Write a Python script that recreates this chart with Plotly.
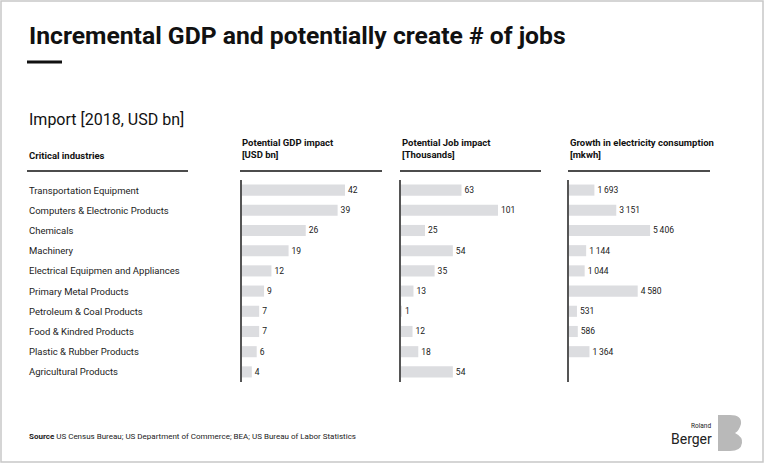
import plotly.graph_objects as go

W, H = 768, 464

categories = [
    "Transportation Equipment",
    "Computers & Electronic Products",
    "Chemicals",
    "Machinery",
    "Electrical Equipmen and Appliances",
    "Primary Metal Products",
    "Petroleum & Coal Products",
    "Food & Kindred Products",
    "Plastic & Rubber Products",
    "Agricultural Products",
]
gdp_impact = [42, 39, 26, 19, 12, 9, 7, 7, 6, 4]
job_impact = [63, 101, 25, 54, 35, 13, 1, 12, 18, 54]
electricity_growth = [1693, 3151, 5406, 1144, 1044, 4580, 531, 586, 1364, None]

column_titles = [
    "Potential GDP impact<br>[USD bn]",
    "Potential Job impact<br>[Thousands]",
    "Growth in electricity consumption<br>[mkwh]",
]

FONT = "Roboto"
BAR = "#dcdde0"
INK = "#1a1a1a"


def px(x):
    return x / W


def py(y):
    return 1 - y / H


def fmt(v):
    if v is None:
        return ""
    return f"{v:,}".replace(",", "\u2009")


series = [gdp_impact, job_impact, electricity_growth]
# column geometry in pixels: (bar start, domain end, x-range max)
cols = [(242, 382, 57.1), (401, 541, 145.8), (569, 710, 9400)]

fig = go.Figure()
ydom = [py(382), py(180)]
for i, (vals, (x0, x1, rmax)) in enumerate(zip(series, cols)):
    sfx = "" if i == 0 else str(i + 1)
    fig.add_trace(go.Bar(
        orientation="h",
        y=categories,
        x=vals,
        xaxis="x" + sfx,
        yaxis="y" + sfx,
        marker=dict(color=BAR, line=dict(width=0)),
        width=0.55,
        text=[fmt(v) for v in vals],
        textposition="outside",
        cliponaxis=False,
        textfont=dict(family=FONT, size=8.5, color=INK),
        hoverinfo="skip",
        showlegend=False,
    ))
    fig.layout["xaxis" + sfx] = dict(
        domain=[px(x0), px(x1)], range=[0, rmax], visible=False,
        anchor="y" + sfx, fixedrange=True,
    )
    fig.layout["yaxis" + sfx] = dict(
        domain=ydom, anchor="x" + sfx, type="category",
        categoryorder="array", categoryarray=categories,
        range=[9.5, -0.5], showticklabels=False, showgrid=False,
        zeroline=False, showline=True, linecolor="#555555", linewidth=1.5,
        ticks="", fixedrange=True,
    )

annotations = []
# title
annotations.append(dict(
    x=px(27), y=py(35), xref="paper", yref="paper", xanchor="left", yanchor="middle",
    text="<b>Incremental GDP and potentially create # of jobs</b>", showarrow=False,
    font=dict(family=FONT, size=24.7, color="#111111"),
))
annotations.append(dict(
    x=px(27), y=py(120), xref="paper", yref="paper", xanchor="left", yanchor="middle",
    text="Import [2018, USD bn]", showarrow=False,
    font=dict(family=FONT, size=16, color="#111111"),
))
annotations.append(dict(
    x=px(27), y=py(155), xref="paper", yref="paper", xanchor="left", yanchor="middle",
    text="<b>Critical industries</b>", showarrow=False,
    font=dict(family=FONT, size=9.5, color="#111111"),
))
for t, hx in zip(column_titles, [240, 400, 568]):
    annotations.append(dict(
        x=px(hx), y=py(149), xref="paper", yref="paper", xanchor="left", yanchor="middle",
        text="<b>" + t.replace("<br>", "</b><br><b>") + "</b>", showarrow=False, align="left",
        font=dict(family=FONT, size=9.5, color="#111111"),
    ))
for c in categories:
    annotations.append(dict(
        x=px(27), y=c, xref="paper", yref="y", xanchor="left", yanchor="middle",
        text=c, showarrow=False,
        font=dict(family=FONT, size=9.5, color="#222222"),
    ))
annotations.append(dict(
    x=px(27), y=py(436), xref="paper", yref="paper", xanchor="left", yanchor="middle",
    text="<b>Source</b> US Census Bureau; US Department of Commerce; BEA; US Bureau of Labor Statistics",
    showarrow=False, font=dict(family=FONT, size=8, color="#222222"),
))
annotations.append(dict(
    x=px(713), y=py(426), xref="paper", yref="paper", xanchor="right", yanchor="middle",
    text="Roland", showarrow=False, font=dict(family=FONT, size=6.5, color="#222222"),
))
annotations.append(dict(
    x=px(714), y=py(439), xref="paper", yref="paper", xanchor="right", yanchor="middle",
    text="Berger", showarrow=False, font=dict(family=FONT, size=14, color="#222222"),
))

shapes = []


def hline(x0, x1, y, w=1.5, color="#111111"):
    shapes.append(dict(type="line", xref="paper", yref="paper",
                       x0=px(x0), x1=px(x1), y0=py(y), y1=py(y),
                       line=dict(color=color, width=w)))


hline(27, 62, 62, w=3)
hline(27, 188, 171)
hline(240, 382, 171)
hline(400, 541, 171)
hline(568, 710, 171)

# frame
shapes.append(dict(type="rect", xref="paper", yref="paper",
                   x0=px(1), x1=px(763), y0=py(462), y1=py(1),
                   line=dict(color="#c8c8c8", width=1.5)))

# stylised "B" logo mark
bx0, by0, bx1, by1 = 718, 415, 742, 451
path = (
    f"M {px(bx0)},{py(by0)} L {px(bx0 + 12)},{py(by0)} "
    f"Q {px(bx1)},{py(by0)} {px(bx1 - 1)},{py(by0 + 9)} "
    f"Q {px(bx1 - 3)},{py(by0 + 16)} {px(bx1 - 7)},{py(by0 + 18)} "
    f"Q {px(bx1 + 1)},{py(by0 + 22)} {px(bx1)},{py(by1 - 8)} "
    f"Q {px(bx1 - 1)},{py(by1)} {px(bx0 + 12)},{py(by1)} "
    f"L {px(bx0)},{py(by1)} Z"
)
shapes.append(dict(type="path", xref="paper", yref="paper", path=path,
                   fillcolor="#b9b9b9", line=dict(width=0)))

fig.update_layout(
    width=W, height=H,
    margin=dict(l=0, r=0, t=0, b=0),
    paper_bgcolor="white", plot_bgcolor="rgba(0,0,0,0)",
    font=dict(family=FONT, color=INK),
    annotations=annotations, shapes=shapes,
    bargap=0.45,
)

fig.write_html(
    "out.html",
    config={"displayModeBar": False},
    post_script="document.body.style.margin='0';document.body.style.overflow='hidden';",
)
